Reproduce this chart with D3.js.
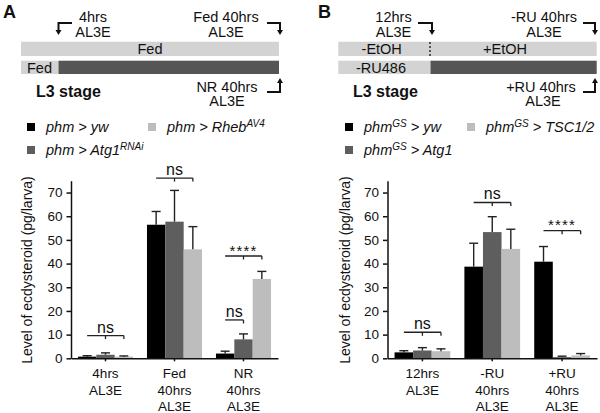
<!DOCTYPE html>
<html><head><meta charset="utf-8">
<script src="https://cdn.jsdelivr.net/npm/d3@7"></script>
<style>
html,body{margin:0;padding:0;background:#fff;}
svg{display:block;font-family:"Liberation Sans",Arial,sans-serif;}
</style></head>
<body><svg id="c" width="600" height="413"></svg>
<script>
// ---------- data ----------
const categoriesA = [["4hrs","AL3E"],["Fed","40hrs","AL3E"],["NR","40hrs","AL3E"]];
const categoriesB = [["12hrs","AL3E"],["-RU","40hrs","AL3E"],["+RU","40hrs","AL3E"]];
const seriesA = [["phm > yw",""],["phm > Atg1","RNAi"],["phm > Rheb","AV4"]];
const seriesB = [["phm","GS"," > yw"],["phm","GS"," > Atg1"],["phm","GS"," > TSC1/2"]];
// values per series (rows) per category (columns)
const meansA = [[0.7,56.4,2.0],[1.5,57.7,8.0],[0.7,46.0,33.5]];
const errA   = [[0.4,5.6,1.0],[0.8,13.2,2.3],[0.3,9.6,3.2]];
const meansB = [[2.5,38.7,40.8],[3.3,53.3,0.5],[3.0,46.2,1.2]];
const errB   = [[0.7,9.9,6.4],[1.2,6.5,0.4],[1.0,8.3,0.8]];
const yTicks = [0,10,20,30,40,50,60,70];
const yMax = 75;
// significance: [category index, from series, to series, level, label]
const sigA = [[0,0,2,9.6,"ns"],[1,0,2,76.1,"ns"],[2,0,1,16.2,"ns"],[2,0,2,43.2,"****"]];
const sigB = [[0,0,2,11.0,"ns"],[1,0,2,65.8,"ns"],[2,0,2,53.9,"****"]];
const colors = ["#000000","#5e5e5e","#bdbdbd"];

const svg = d3.select("#c");
const F = '"Liberation Sans",Arial,sans-serif';

function drawPanel(o){
  const g = svg.append("g");
  const y = d3.scaleLinear().domain([0,yMax]).range([358.3,180.7]);
  const x = d3.scaleBand().domain(d3.range(o.cats.length)).range(o.xr).padding(0);
  const xi = d3.scaleBand().domain(d3.range(3)).range([0,x.bandwidth()]).paddingInner(0).paddingOuter(0.38);

  // bars
  o.means.forEach((row,s)=>{
    row.forEach((v,c)=>{
      const bx = x(c)+xi(s);
      g.append("rect").attr("x",bx).attr("y",y(v)).attr("width",xi.bandwidth()).attr("height",y(0)-y(v)).attr("fill",colors[s]);
      const cx = bx+xi.bandwidth()/2, top = y(v+o.err[s][c]);
      g.append("line").attr("x1",cx).attr("x2",cx).attr("y1",y(v)).attr("y2",top).attr("stroke","#222").attr("stroke-width",1.4);
      g.append("line").attr("x1",cx-4.5).attr("x2",cx+4.5).attr("y1",top).attr("y2",top).attr("stroke","#222").attr("stroke-width",1.4);
    });
  });

  // axes
  const ya = g.append("g").attr("transform",`translate(${o.xr[0]},0)`)
    .call(d3.axisLeft(y).tickValues(yTicks).tickSize(4.5).tickSizeOuter(0).tickPadding(4));
  ya.selectAll("text").attr("font-size",13.5).attr("font-family",F).attr("fill","#111");
  ya.selectAll("line,path").attr("stroke","#111").attr("stroke-width",1.5);
  const xa = g.append("g").attr("transform",`translate(0,${y(0)})`)
    .call(d3.axisBottom(x).tickSize(3).tickSizeOuter(0).tickFormat(""));
  xa.selectAll("line,path").attr("stroke","#111").attr("stroke-width",1.5);

  // category labels
  o.cats.forEach((lines,c)=>{
    const t = g.append("text").attr("x",x(c)+x.bandwidth()/2).attr("y",378)
      .attr("text-anchor","middle").attr("font-size",13.5).attr("fill","#111");
    lines.forEach((l,i)=>t.append("tspan").attr("x",x(c)+x.bandwidth()/2).attr("dy",i?16.5:0).text(l));
  });

  // y label
  g.append("text").attr("transform",`translate(${o.ylx},270) rotate(-90)`)
    .attr("text-anchor","middle").attr("font-size",14).attr("fill","#111")
    .text("Level of ecdysteroid (pg/larva)");

  // significance brackets
  o.sig.forEach(([c,a,b,lv,lab])=>{
    const xa1 = x(c)+xi(a)+xi.bandwidth()/2, xb = x(c)+xi(b)+xi.bandwidth()/2;
    const yy = y(lv);
    g.append("line").attr("x1",xa1).attr("x2",xb).attr("y1",yy).attr("y2",yy).attr("stroke","#222").attr("stroke-width",1.3);
    g.append("line").attr("x1",xb).attr("x2",xb).attr("y1",yy).attr("y2",yy+3.5).attr("stroke","#222").attr("stroke-width",1.3);
    if(b-a===2){
      const xm=(xa1+xb)/2;
      g.append("line").attr("x1",xm).attr("x2",xm).attr("y1",yy).attr("y2",yy+3.5).attr("stroke","#222").attr("stroke-width",1.3);
    }
    const star = lab.startsWith("*");
    g.append("text").attr("x",(xa1+xb)/2).attr("y",star?yy-0.5:yy-3).attr("text-anchor","middle")
      .attr("font-size",star?15:16).attr("letter-spacing",star?1.2:0).attr("fill","#111").text(lab);
  });

  // legend
  const legPos = [[o.lx1,127],[o.lx1,150],[o.lx2,127]];
  o.series.forEach((s,i)=>{
    const [lx,ly] = legPos[i];
    g.append("rect").attr("x",lx).attr("y",ly-4).attr("width",8).attr("height",8).attr("fill",colors[i]);
    const t = g.append("text").attr("x",lx+19).attr("y",ly+5).attr("font-size",14.5).attr("font-style","italic").attr("fill","#111");
    if(s.length===2){
      t.append("tspan").text(s[0]);
      if(s[1]) t.append("tspan").attr("dy",-5.5).attr("font-size",10).text(s[1]);
    } else {
      t.append("tspan").text(s[0]);
      t.append("tspan").attr("dy",-5.5).attr("font-size",10).text(s[1]);
      t.append("tspan").attr("dy",5.5).text(s[2]);
    }
  });
}

drawPanel({cats:categoriesA, series:seriesA, means:meansA, err:errA, sig:sigA, xr:[71,278], ylx:32, lx1:27, lx2:148});
drawPanel({cats:categoriesB, series:seriesB, means:meansB, err:errB, sig:sigB, xr:[387.5,597], ylx:350, lx1:345, lx2:467});

// ---------- schematics ----------
const lightG = "#d3d3d3", darkG = "#555555";
function txt(x,y,s,opt={}){
  return svg.append("text").attr("x",x).attr("y",y).attr("text-anchor",opt.anchor||"middle")
    .attr("font-size",opt.size||14.5).attr("font-weight",opt.bold?"bold":"normal").attr("fill","#111").text(s);
}
function arrow(pts, dir){
  svg.append("polyline").attr("points",pts.map(p=>p.join(",")).join(" ")).attr("fill","none").attr("stroke","#111").attr("stroke-width",2);
  const [ex,ey] = pts[pts.length-1];
  const tri = dir==="down" ? [[ex-3,ey],[ex+3,ey],[ex,ey+5]] : [[ex-3,ey],[ex+3,ey],[ex,ey-5]];
  svg.append("polygon").attr("points",tri.map(p=>p.join(",")).join(" ")).attr("fill","#111");
}
// Panel A
txt(3,18,"A",{anchor:"start",size:18,bold:true});
txt(93,21.5,"4hrs"); txt(93,36.5,"AL3E");
arrow([[72,23],[58.5,23],[58.5,30]],"down");
txt(226,21.5,"Fed 40hrs"); txt(226,36.5,"AL3E");
arrow([[267,23],[280,23],[280,30]],"down");
svg.append("rect").attr("x",21).attr("y",41.7).attr("width",258).attr("height",14.3).attr("fill",lightG);
txt(150,54,"Fed");
svg.append("rect").attr("x",21).attr("y",60.7).attr("width",37.5).attr("height",13.3).attr("fill",lightG);
svg.append("rect").attr("x",58.5).attr("y",60.7).attr("width",220.5).attr("height",13.3).attr("fill",darkG);
txt(39.5,72.5,"Fed");
txt(36,97,"L3 stage",{anchor:"start",size:16,bold:true});
txt(227,91.5,"NR 40hrs"); txt(227,106,"AL3E");
arrow([[267,92],[280,92],[280,83]],"up");
// Panel B
txt(318,18,"B",{anchor:"start",size:18,bold:true});
txt(393.5,21.5,"12hrs"); txt(393.5,36.5,"AL3E");
arrow([[418,23],[432,23],[432,30]],"down");
txt(544,21.5,"-RU 40hrs"); txt(544,36.5,"AL3E");
arrow([[583,23],[595,23],[595,30]],"down");
svg.append("rect").attr("x",338.3).attr("y",41.7).attr("width",258.4).attr("height",14.3).attr("fill",lightG);
svg.append("line").attr("x1",430).attr("x2",430).attr("y1",42).attr("y2",56).attr("stroke","#111").attr("stroke-width",1.3).attr("stroke-dasharray","2,2");
txt(381.7,54,"-EtOH"); txt(505,54,"+EtOH");
svg.append("rect").attr("x",338.3).attr("y",60.7).attr("width",92.2).attr("height",13.3).attr("fill",lightG);
svg.append("rect").attr("x",430.5).attr("y",60.7).attr("width",166.2).attr("height",13.3).attr("fill",darkG);
txt(381,72.5,"-RU486");
txt(353,97,"L3 stage",{anchor:"start",size:16,bold:true});
txt(541,91.5,"+RU 40hrs"); txt(543,106,"AL3E");
arrow([[583,92],[595,92],[595,83]],"up");
</script></body></html>
